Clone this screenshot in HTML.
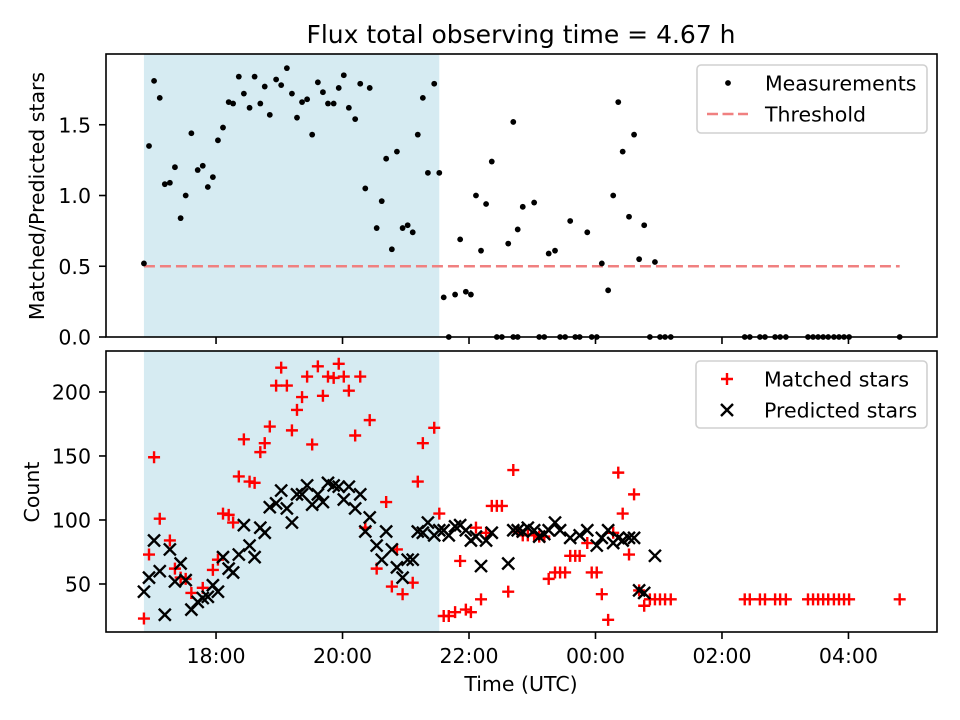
<!DOCTYPE html>
<html><head><meta charset="utf-8"><style>
html,body{margin:0;padding:0;background:#fff}
svg{display:block;font-family:"DejaVu Sans","Liberation Sans",sans-serif}
</style></head><body>
<svg id="chart" width="960" height="720" viewBox="0 0 960 720" xmlns="http://www.w3.org/2000/svg">
<text x="521" y="43" text-anchor="middle" font-size="25">Flux total observing time = 4.67 h</text>
<text transform="translate(44,196) rotate(-90)" text-anchor="middle" font-size="20.5">Matched/Predicted stars</text>
<text transform="translate(39,492) rotate(-90)" text-anchor="middle" font-size="20.5">Count</text>
<text x="521" y="691" text-anchor="middle" font-size="20.5">Time (UTC)</text>
<g id="topPanel"></g>
<g id="botPanel"></g>
</svg>
<script>
const ratioTimes=[16.86,16.94,17.02,17.11,17.19,17.27,17.35,17.44,17.52,17.61,17.71,17.79,17.87,17.95,18.03,18.11,18.20,18.27,18.36,18.44,18.53,18.61,18.70,18.77,18.85,18.95,19.03,19.12,19.20,19.28,19.36,19.44,19.52,19.61,19.69,19.77,19.86,19.94,20.02,20.10,20.20,20.28,20.36,20.43,20.54,20.62,20.69,20.78,20.86,20.95,21.03,21.11,21.19,21.27,21.35,21.45,21.53,
21.60,21.68,21.78,21.86,21.95,22.03,22.11,22.19,22.27,22.36,22.44,22.52,22.62,22.70,22.70,22.77,22.77,22.85,23.03,23.11,23.19,23.26,23.36,23.44,23.52,23.60,23.68,23.75,23.87,23.94,24.02,24.10,24.20,24.28,24.36,24.43,24.53,24.61,24.69,24.77,24.86,24.94,25.02,25.10,25.19,26.36,26.44,26.60,26.68,26.84,26.92,27.01,27.36,27.44,27.52,27.60,27.68,27.77,27.85,27.93,28.01,28.81];
const ratioValues=[0.52,1.35,1.81,1.69,1.08,1.09,1.20,0.84,1.00,1.44,1.18,1.21,1.06,1.13,1.39,1.48,1.66,1.65,1.84,1.72,1.62,1.84,1.65,1.77,1.57,1.82,1.78,1.90,1.72,1.55,1.66,1.68,1.43,1.80,1.73,1.65,1.65,1.76,1.85,1.62,1.54,1.79,1.05,1.76,0.77,0.96,1.26,0.62,1.31,0.77,0.79,0.74,1.43,1.69,1.16,1.79,1.16,
0.28,0,0.30,0.69,0.32,0.30,1.00,0.61,0.94,1.24,0,0,0.66,1.52,0,0.76,0,0.92,0.95,0,0,0.59,0.61,0,0,0.82,0,0,0.74,0,0,0.52,0.33,1.00,1.66,1.31,0.85,1.43,0.55,0.79,0,0.53,0,0,0,0,0,0,0,0,0,0,0,0,0,0,0,0,0,0,0,0];
const matchedTimes=[16.86,16.94,17.02,17.11,17.27,17.35,17.44,17.52,17.61,17.79,17.95,18.03,18.11,18.20,18.27,18.36,18.53,18.61,18.44,18.70,18.77,18.85,18.95,19.03,19.12,19.20,19.28,19.36,19.44,19.52,19.61,19.69,19.77,19.86,19.94,20.02,20.10,20.20,20.28,20.43,20.36,20.69,20.54,20.78,20.86,20.95,21.11,21.19,21.27,21.45,21.53,
21.60,21.68,21.78,21.86,21.95,22.03,22.11,22.19,22.27,22.36,22.44,22.52,22.62,22.70,22.77,22.85,22.93,23.03,23.11,23.19,23.26,23.36,23.44,23.52,23.60,23.68,23.75,23.87,23.94,24.02,24.10,24.20,24.28,24.36,24.43,24.53,24.61,24.69,24.77,24.86,24.94,25.02,25.10,25.19,26.36,26.44,26.60,26.68,26.84,26.92,27.01,27.36,27.44,27.52,27.60,27.68,27.77,27.85,27.93,28.01,28.81];
const matchedCounts=[23,73,149,101,84,62,55,54,43,47,61,69,105,104,98,134,130,129,163,153,160,173,205,219,205,170,186,196,212,159,220,197,212,211,222,212,201,166,212,178,94,114,62,48,77,42,51,130,160,172,105,
25,25,28,68,30,28,94,38,90,111,111,111,44,139,91,88,88,88,87,87,54,59,59,59,72,72,72,82,59,59,42,22,90,137,105,73,120,45,33,38,38,38,38,38,38,38,38,38,38,38,38,38,38,38,38,38,38,38,38,38,38];
const predictedTimes=[16.86,16.94,17.02,17.11,17.19,17.27,17.35,17.44,17.52,17.61,17.71,17.79,17.87,17.95,18.03,18.11,18.20,18.27,18.36,18.44,18.53,18.61,18.70,18.77,18.85,18.95,19.03,19.12,19.20,19.28,19.36,19.44,19.52,19.61,19.69,19.77,19.86,19.94,20.02,20.10,20.20,20.28,20.43,20.36,20.54,20.69,20.78,20.62,20.86,20.95,21.03,21.11,21.19,21.27,21.35,21.45,21.53,
21.60,21.68,21.78,21.86,21.95,22.03,22.11,22.19,22.27,22.36,22.62,22.70,22.77,22.85,22.93,23.03,23.11,23.19,23.26,23.36,23.44,23.60,23.75,23.87,24.02,24.10,24.20,24.28,24.36,24.43,24.53,24.61,24.69,24.77,24.94];
const predictedCounts=[44,55,84,60,26,77,52,66,53,30,36,39,40,49,44,71,62,59,73,96,80,71,94,90,110,113,123,109,98,120,120,127,112,120,114,129,127,126,116,126,109,120,102,91,80,91,77,69,63,55,69,69,91,90,98,88,92,
92,88,95,96,92,84,87,64,84,90,66,92,92,91,94,92,87,89,92,98,92,86,88,92,80,86,92,82,86,84,86,86,45,43,72];
const shadeStart=16.86, shadeEnd=21.53, threshold=0.5, thresholdEnd=28.81;
const ratioTicks=[0,0.5,1.0,1.5], ratioTickLabels=["0.0","0.5","1.0","1.5"];
const countTicks=[50,100,150,200], countTickLabels=["50","100","150","200"];
const timeTicks=[18,20,22,24,26,28], timeTickLabels=["18:00","20:00","22:00","00:00","02:00","04:00"];

const NS="http://www.w3.org/2000/svg";
const L=106,R=937;
const xS=h=>L+(h-16.26)/(29.40-16.26)*(R-L);
const P1={t:54,b:337,min:0,max:2.0}, P2={t:351,b:632,min:12.5,max:232};
const yS=(p,v)=>p.b-(v-p.min)/(p.max-p.min)*(p.b-p.t);
function mk(parent,tag,attrs){const e=document.createElementNS(NS,tag);for(const k in attrs)e.setAttribute(k,attrs[k]);parent.appendChild(e);return e;}

function panel(g,p,ticks,labels,showX){
  let e=mk(g,'rect',{x:xS(shadeStart),y:p.t,width:xS(shadeEnd)-xS(shadeStart),height:p.b-p.t,fill:'#add8e6','fill-opacity':0.5});
  
  
  ticks.forEach((v,i)=>{
    const y=yS(p,v);
    mk(g,'line',{x1:L-7,x2:L,y1:y,y2:y,stroke:'#000','stroke-width':1.6});
    const t=mk(g,'text',{x:L-15,y:y+7.5,'text-anchor':'end','font-size':20.5});
    t.textContent=labels[i];
    
    
  });
  timeTicks.forEach((v,i)=>{
    const x=xS(v);
    mk(g,'line',{x1:x,x2:x,y1:p.b,y2:p.b+7,stroke:'#000','stroke-width':1.6});
    if(showX){const t=mk(g,'text',{x:x,y:p.b+31,'text-anchor':'middle','font-size':20.5});t.textContent=timeTickLabels[i];
      
      }
  });
}
const topG=document.getElementById('topPanel'), botG=document.getElementById('botPanel');
panel(topG,P1,ratioTicks,ratioTickLabels,false);
panel(botG,P2,countTicks,countTickLabels,true);

let th=mk(topG,'line',{x1:xS(shadeStart),x2:xS(thresholdEnd),y1:yS(P1,threshold),y2:yS(P1,threshold),stroke:'#f08080','stroke-width':2.6,'stroke-dasharray':'11,5'});


ratioTimes.forEach((t,i)=>{
  const c=mk(topG,'circle',{cx:xS(t),cy:yS(P1,ratioValues[i]),r:2.9,fill:'#000'});
  
  
});
matchedTimes.forEach((t,i)=>{
  const x=xS(t),y=yS(P2,matchedCounts[i]);
  const g=mk(botG,'path',{d:`M${x-6},${y}H${x+6}M${x},${y-6}V${y+6}`,stroke:'#f00','stroke-width':2.4,fill:'none'});
  
  
});
predictedTimes.forEach((t,i)=>{
  const x=xS(t),y=yS(P2,predictedCounts[i]);
  const g=mk(botG,'path',{d:`M${x-6},${y-6}L${x+6},${y+6}M${x-6},${y+6}L${x+6},${y-6}`,stroke:'#000','stroke-width':2.4,fill:'none'});
  
  
});
[P1,P2].forEach(p=>{const f=mk(p===P1?topG:botG,'rect',{x:L,y:p.t,width:R-L,height:p.b-p.t,fill:'none',stroke:'#000','stroke-width':1.6});
  
  });

function legend(g,x,y,w,h,items){
  const lg=mk(g,'g',{});
  
  
  mk(lg,'rect',{x:x,y:y,width:w,height:h,rx:4,fill:'#fff','fill-opacity':0.8,stroke:'#d0d0d0','stroke-width':1.6});
  items.forEach((it,i)=>{
    const cy=y+18+i*31, ent=mk(lg,'g',{});
    
    
    const mx=x+31;
    if(it.k==='dot')mk(ent,'circle',{cx:mx,cy:cy,r:2.9,fill:'#000'});
    if(it.k==='dash')mk(ent,'line',{x1:x+10,x2:x+51,y1:cy,y2:cy,stroke:'#f08080','stroke-width':2.6,'stroke-dasharray':'11,4.5'});
    if(it.k==='plus')mk(ent,'path',{d:`M${mx-6},${cy}H${mx+6}M${mx},${cy-6}V${cy+6}`,stroke:'#f00','stroke-width':2.4});
    if(it.k==='x')mk(ent,'path',{d:`M${mx-6},${cy-6}L${mx+6},${cy+6}M${mx-6},${cy+6}L${mx+6},${cy-6}`,stroke:'#000','stroke-width':2.4});
    const t=mk(ent,'text',{x:x+68,y:cy+7.5,'font-size':20.5});t.textContent=it.t;
  });
}
legend(topG,697,65,230,68,[{k:'dot',t:'Measurements'},{k:'dash',t:'Threshold'}]);
legend(botG,696,361,231,67,[{k:'plus',t:'Matched stars'},{k:'x',t:'Predicted stars'}]);
</script>
</body></html>
